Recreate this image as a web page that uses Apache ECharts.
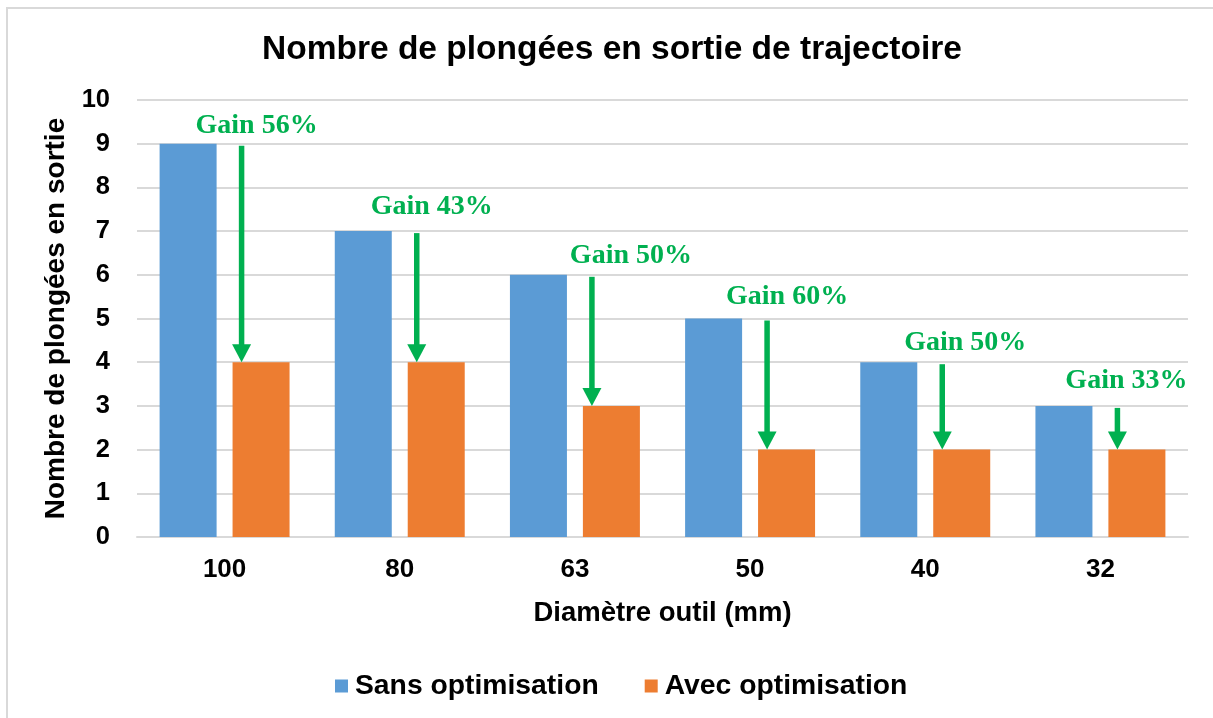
<!DOCTYPE html>
<html>
<head>
<meta charset="utf-8">
<script src="https://cdn.jsdelivr.net/npm/echarts@6/dist/echarts.min.js"></script>
<style>
  html, body { margin: 0; padding: 0; background: #fff; }
  #chart { width: 1213px; height: 718px; }
</style>
</head>
<body>
<div id="chart"></div>
<script>
// Tool diameters (mm) and plunge counts per strategy
const diameters = ['100', '80', '63', '50', '40', '32'];
const sansOptimisation = [9, 7, 6, 5, 4, 3];
const avecOptimisation = [4, 4, 3, 2, 2, 2];
const gainPct = [56, 43, 50, 60, 50, 33];
const yTicks = [0, 1, 2, 3, 4, 5, 6, 7, 8, 9, 10];

// Where each "Gain" caption sits relative to its category centre and blue bar top (px)
const gainLabelShift = [[32, -18], [32, -24], [56, -19], [37, -22], [40, -19], [26, -25]];

const BLUE = '#5B9BD5';
const ORANGE = '#ED7D31';
const GREEN = '#00B050';
const GRID = '#D9D9D9';
const SANS = '"Liberation Sans", Arial, sans-serif';
const SERIF = '"Liberation Serif", "Times New Roman", serif';

const arrowData = diameters.map((d, i) => [i, sansOptimisation[i], avecOptimisation[i], gainPct[i]]);

const chart = echarts.init(document.getElementById('chart'), null, { renderer: 'canvas' });

chart.setOption({
  animation: false,
  backgroundColor: '#fff',
  title: {
    text: 'Nombre de plongées en sortie de trajectoire',
    left: 262,
    top: 33,
    padding: 0,
    textStyle: { fontFamily: SANS, fontWeight: 'bold', fontSize: 33.5, color: '#000' }
  },
  graphic: [{
    type: 'rect',
    shape: { x: 7, y: 8, width: 1240, height: 740 },
    style: { fill: 'none', stroke: GRID, lineWidth: 2 },
    silent: true
  }],
  legend: {
    bottom: 18,
    left: 335,
    padding: 0,
    itemWidth: 13,
    itemHeight: 13,
    itemGap: 46,
    icon: 'rect',
    textStyle: { fontFamily: SANS, fontWeight: 'bold', fontSize: 28.3, color: '#000', padding: [0, 0, 0, 2] },
    data: ['Sans optimisation', 'Avec optimisation']
  },
  grid: { left: 137, right: 25, top: 100, bottom: 181, containLabel: false },
  xAxis: {
    type: 'category',
    data: diameters,
    name: 'Diamètre outil (mm)',
    nameLocation: 'middle',
    nameGap: 62,
    nameTextStyle: { fontFamily: SANS, fontWeight: 'bold', fontSize: 27.5, color: '#000', verticalAlign: 'top' },
    axisLine: { lineStyle: { color: GRID, width: 2 } },
    axisTick: { show: false },
    axisLabel: { fontFamily: SANS, fontWeight: 'bold', fontSize: 26, color: '#000', margin: 20 }
  },
  yAxis: {
    type: 'value',
    min: 0,
    max: 10,
    interval: 1,
    name: 'Nombre de plongées en sortie',
    nameLocation: 'middle',
    nameGap: 62,
    nameTextStyle: { fontFamily: SANS, fontWeight: 'bold', fontSize: 28, color: '#000' },
    axisLine: { show: false },
    axisTick: { show: false },
    axisLabel: {
      fontFamily: SANS, fontWeight: 'bold', fontSize: 25.5, color: '#000', margin: 27,
      formatter: v => (yTicks.indexOf(v) >= 0 ? String(v) : '')
    },
    splitLine: { lineStyle: { color: GRID, width: 2 } }
  },
  series: [
    {
      name: 'Sans optimisation',
      type: 'bar',
      data: sansOptimisation,
      barWidth: 57,
      barGap: '28%',
      itemStyle: { color: BLUE }
    },
    {
      name: 'Avec optimisation',
      type: 'bar',
      data: avecOptimisation,
      barWidth: 57,
      itemStyle: { color: ORANGE }
    },
    {
      // Downward green arrows from the unoptimised count to the optimised one, with the gain caption
      type: 'custom',
      data: arrowData,
      z: 10,
      silent: true,
      renderItem: function (params, api) {
        const i = api.value(0);
        const top = api.coord([i, api.value(1)]);
        const tip = api.coord([i, api.value(2)]);
        const x = top[0] + 17;
        const y0 = top[1] + 2;
        const y1 = tip[1];
        const headH = 18, headW = 19, stemW = 5.5;
        const shift = gainLabelShift[params.dataIndex];
        return {
          type: 'group',
          children: [
            {
              type: 'rect',
              shape: { x: x - stemW / 2, y: y0, width: stemW, height: Math.max(0, y1 - headH - y0 + 1) },
              style: { fill: GREEN }
            },
            {
              type: 'polygon',
              shape: { points: [[x - headW / 2, y1 - headH], [x + headW / 2, y1 - headH], [x, y1]] },
              style: { fill: GREEN }
            },
            {
              type: 'text',
              x: top[0] + shift[0],
              y: top[1] + shift[1],
              style: {
                text: 'Gain ' + api.value(3) + '%',
                fill: GREEN,
                font: 'bold 28px ' + SERIF,
                align: 'center',
                verticalAlign: 'middle'
              }
            }
          ]
        };
      }
    }
  ]
});
</script>
</body>
</html>
